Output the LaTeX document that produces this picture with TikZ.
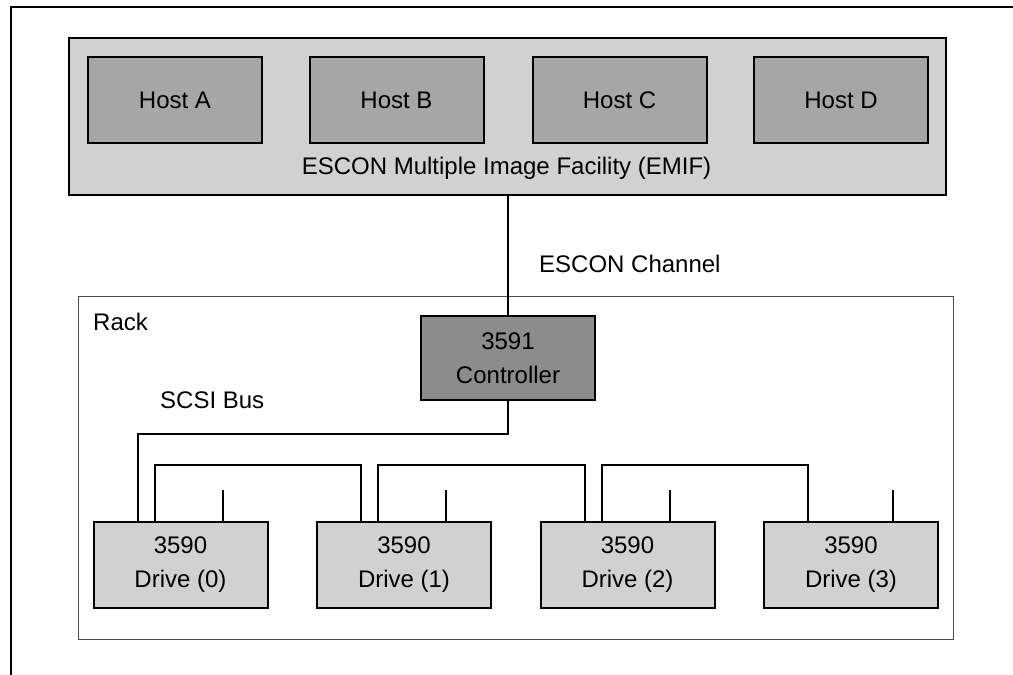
\documentclass[tikz,border=0pt]{standalone}
\usepackage{fontspec}
\setmainfont{Liberation Sans}
\usetikzlibrary{calc}

\begin{document}
\begin{tikzpicture}[x=1pt, y=-1pt,
  every node/.style={font=\fontsize{24}{34}\selectfont},
  unit/.style={draw, line width=2pt, minimum width=174pt, minimum height=86pt, inner sep=0pt, align=center},
  hostbox/.style={unit, fill=black!35},
  drivebox/.style={unit, fill=black!18},
  ctrlbox/.style={unit, fill=black!45, minimum height=84pt},
  bus/.style={line width=2pt},
  lbl/.style={anchor=base west, inner sep=0pt}]
  \useasboundingbox (0,0) rectangle (1013,675);
  % page frame
  \draw[line width=1.3pt] (1013,7) -- (11,7) -- (11,675);
  % EMIF with its four hosts
  \node[draw, line width=2pt, fill=black!18, minimum width=877pt, minimum height=157pt] (emif) at (507.5,116.5) {};
  \node[anchor=base, inner sep=0pt] (emiflbl) at (506.5,174) {ESCON Multiple Image Facility (EMIF)};
  \foreach \h/\x in {A/175,B/396.5,C/619.5,D/841}
    \node[hostbox] (host\h) at (\x,100) {Host \h};
  % rack
  \node[draw=black!70, line width=1pt, minimum width=875pt, minimum height=343pt] (rack) at (515.5,467.5) {};
  \node[lbl] (racklbl) at (93,330) {Rack};
  % controller on the channel
  \node[ctrlbox] (ctrl) at (508,358) {3591\\Controller};
  \draw[bus] (emif.south -| ctrl.north) -- (ctrl.north);
  \node[lbl] (chanlbl) at (539,272) {ESCON Channel};
  % drives, each with an in, an out and a terminator stub
  \foreach \i/\x in {0/180.5,1/404,2/627.5,3/851} {
    \node[drivebox] (d\i) at (\x,564.5) {3590\\Drive (\i)};
    \coordinate (in\i) at ([xshift=45pt]d\i.north west);
    \coordinate (out\i) at ([xshift=62pt]d\i.north west);
    \draw[bus] ([xshift=130pt]d\i.north west) -- ++(0,-31);
  }
  % SCSI bus, daisy-chained
  \node[lbl] (scsilbl) at (160,408) {SCSI Bus};
  \draw[bus] (ctrl.south) -- ++(0,33) -| (in0);
  \foreach \i/\j in {0/1,1/2,2/3}
    \draw[bus] (out\i) -- ++(0,-56) -| (in\j);
\end{tikzpicture}
\end{document}
